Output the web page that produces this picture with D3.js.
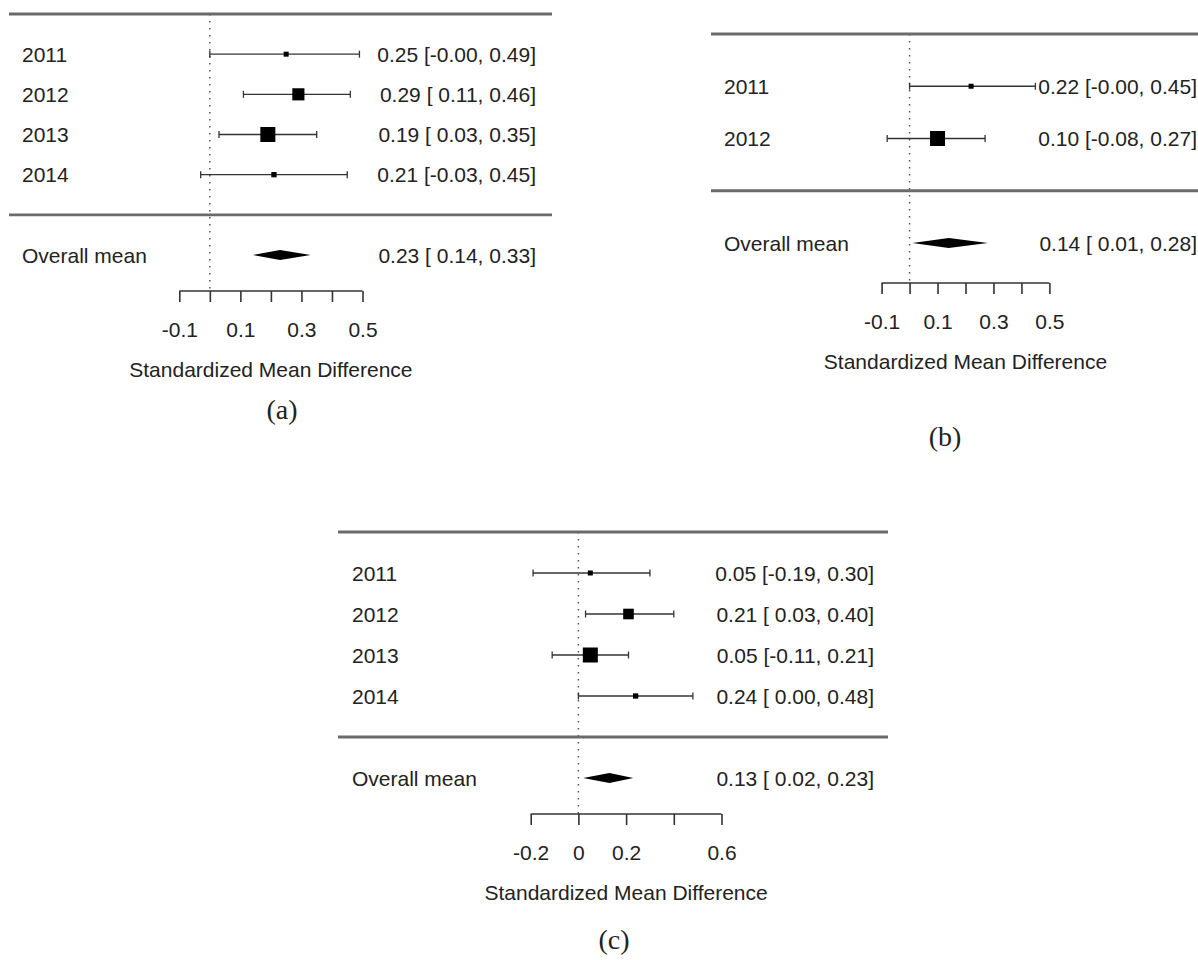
<!DOCTYPE html>
<html lang="en">
<head>
<meta charset="UTF-8">
<title>Forest plots</title>
<script src="https://d3js.org/d3.v7.min.js"></script>
<style>
    body { margin: 0; background: #fff; }
    svg text { font-family: "Liberation Sans", Arial, Helvetica, sans-serif; fill: #222; }
    .lbl { font-size: 21px; }
    .cap { font-family: "Liberation Serif", "Times New Roman", serif !important; font-size: 28px; }
    .rule { stroke: #6a6a6a; stroke-width: 2.8px; }
    .zero { stroke: #555; stroke-width: 1.5px; stroke-dasharray: 1.5 5.5; }
    .ci { stroke: #333; stroke-width: 1.3px; }
    .axis path, .axis line { stroke: #333; stroke-width: 1.6px; }
    .axis text { font-size: 21px; fill: #222; }
</style>
</head>
<body>
<svg width="1198" height="960"></svg>
<script>
// (a)
const yearsA = ["2011", "2012", "2013", "2014"];
const estA  = [0.25, 0.29, 0.19, 0.21];
const lowA  = [-0.00, 0.11, 0.03, -0.03];
const highA = [0.49, 0.46, 0.35, 0.45];
const meanA = [0.23, 0.14, 0.33];   // estimate, lower, upper
const ticksA = [-0.1, 0, 0.1, 0.2, 0.3, 0.4, 0.5];
const tickLabelsA = ["-0.1", "", "0.1", "", "0.3", "", "0.5"];

// (b)
const yearsB = ["2011", "2012"];
const estB  = [0.22, 0.10];
const lowB  = [-0.00, -0.08];
const highB = [0.45, 0.27];
const meanB = [0.14, 0.01, 0.28];
const ticksB = [-0.1, 0, 0.1, 0.2, 0.3, 0.4, 0.5];
const tickLabelsB = ["-0.1", "", "0.1", "", "0.3", "", "0.5"];

// (c)
const yearsC = ["2011", "2012", "2013", "2014"];
const estC  = [0.05, 0.21, 0.05, 0.24];
const lowC  = [-0.19, 0.03, -0.11, 0.00];
const highC = [0.30, 0.40, 0.21, 0.48];
const meanC = [0.13, 0.02, 0.23];
const ticksC = [-0.2, 0, 0.2, 0.4, 0.6];
const tickLabelsC = ["-0.2", "0", "0.2", "", "0.6"];

const svg = d3.select("svg");

// R style numbers: "-0.00", " 0.11"
function num(v) {
    const neg = v < 0 || Object.is(v, -0);
    return (neg ? "-" : " ") + Math.abs(v).toFixed(2);
}
function ciText(e, l, h) {
    return e.toFixed(2) + " [" + num(l) + ", " + Math.abs(h).toFixed(2) + "]";
}

function forest(p) {
    const g = svg.append("g");
    const k = p.years.length;

    const x = d3.scaleLinear().domain(d3.extent(p.ticks)).range(p.xr);
    // rows k..1 for studies, 0 separator, -1 overall, k+1 top rule
    const y = d3.scaleLinear().domain([k + 1, -1]).range([p.top, p.mean]);

    // point size from inverse-variance weight
    const w = p.low.map((l, i) => 1 / Math.pow((p.high[i] - l) / 3.92, 2));
    const size = d3.scaleLinear().domain(d3.extent(w)).range([5, 15]);

    g.append("line").attr("class", "zero")
        .attr("x1", x(0)).attr("x2", x(0))
        .attr("y1", y(k + 1)).attr("y2", p.axisY);

    [k + 1, 0].forEach(r => {
        g.append("line").attr("class", "rule")
            .attr("x1", p.ruleX[0]).attr("x2", p.ruleX[1])
            .attr("y1", y(r)).attr("y2", y(r));
    });

    const rows = p.years.map((yr, i) => ({
        yr: yr, e: p.est[i], l: p.low[i], h: p.high[i], w: w[i], r: k - i
    }));

    const row = g.selectAll(".row").data(rows).enter().append("g");
    row.append("text").attr("class", "lbl")
        .attr("x", p.labelX).attr("y", d => y(d.r)).attr("dy", "0.36em")
        .text(d => d.yr);
    row.append("line").attr("class", "ci")
        .attr("x1", d => x(d.l)).attr("x2", d => x(d.h))
        .attr("y1", d => y(d.r)).attr("y2", d => y(d.r));
    row.selectAll(".cap").data(d => [[d.l, d.r], [d.h, d.r]]).enter()
        .append("line").attr("class", "ci")
        .attr("x1", d => x(d[0])).attr("x2", d => x(d[0]))
        .attr("y1", d => y(d[1]) - 3.5).attr("y2", d => y(d[1]) + 3.5);
    row.append("rect").attr("fill", "#000")
        .attr("x", d => x(d.e) - size(d.w) / 2)
        .attr("y", d => y(d.r) - size(d.w) / 2)
        .attr("width", d => size(d.w)).attr("height", d => size(d.w));
    row.append("text").attr("class", "lbl")
        .attr("x", p.statX).attr("y", d => y(d.r)).attr("dy", "0.36em")
        .attr("text-anchor", "end")
        .text(d => ciText(d.e, d.l, d.h));

    // overall mean
    const m = p.meanVals, ym = y(-1);
    g.append("text").attr("class", "lbl")
        .attr("x", p.labelX).attr("y", ym).attr("dy", "0.36em").text("Overall mean");
    g.append("polygon").attr("fill", "#000")
        .attr("points", [[x(m[1]), ym], [x(m[0]), ym - 5], [x(m[2]), ym], [x(m[0]), ym + 5]].join(" "));
    g.append("text").attr("class", "lbl")
        .attr("x", p.statX).attr("y", ym).attr("dy", "0.36em")
        .attr("text-anchor", "end").text(ciText(m[0], m[1], m[2]));

    // axis
    const ax = g.append("g").attr("class", "axis")
        .attr("transform", "translate(0," + p.axisY + ")")
        .call(d3.axisBottom(x).tickValues(p.ticks).tickSize(11).tickSizeOuter(0)
            .tickPadding(20).tickFormat((d, i) => p.tickLabels[i]));
    ax.selectAll("text").attr("font-family", null);
    ax.select(".domain").attr("d", "M" + p.xr[0] + ",0H" + p.xr[1]);

    g.append("text").attr("class", "lbl")
        .attr("x", (p.xr[0] + p.xr[1]) / 2).attr("y", p.axisY + 78).attr("dy", "0.36em")
        .attr("text-anchor", "middle").text("Standardized Mean Difference");

    g.append("text").attr("class", "cap")
        .attr("x", p.capX).attr("y", p.capY).attr("dy", "0.33em")
        .attr("text-anchor", "middle").text(p.cap);
}

forest({
    years: yearsA, est: estA, low: lowA, high: highA, meanVals: meanA,
    ticks: ticksA, tickLabels: tickLabelsA,
    xr: [179.3, 362.5], top: 14, mean: 255, axisY: 291,
    ruleX: [9, 552], labelX: 22, statX: 536, capX: 282, capY: 410, cap: "(a)"
});
forest({
    years: yearsB, est: estB, low: lowB, high: highB, meanVals: meanB,
    ticks: ticksB, tickLabels: tickLabelsB,
    xr: [881.6, 1049.4], top: 34, mean: 243, axisY: 283,
    ruleX: [711, 1198], labelX: 724, statX: 1197, capX: 945, capY: 437, cap: "(b)"
});
forest({
    years: yearsC, est: estC, low: lowC, high: highC, meanVals: meanC,
    ticks: ticksC, tickLabels: tickLabelsC,
    xr: [530.7, 721.5], top: 532, mean: 778, axisY: 814,
    ruleX: [338, 888], labelX: 352, statX: 874, capX: 614, capY: 940, cap: "(c)"
});
</script>
</body>
</html>
